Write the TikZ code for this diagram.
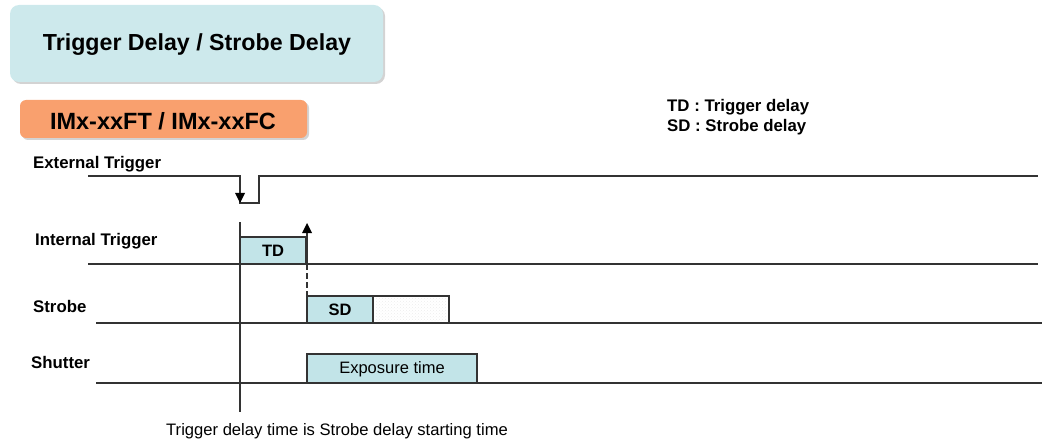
\documentclass[tikz,border=0pt]{standalone}
\usepackage{fontspec}
\setmainfont{Liberation Sans}
\usetikzlibrary{arrows.meta,shadows,patterns}
\definecolor{titlefill}{HTML}{CDE9EC}
\definecolor{boxfill}{HTML}{C2E4E8}
\definecolor{orangefill}{HTML}{F9A06E}
\definecolor{linecol}{HTML}{333333}
\tikzset{
  sig/.style={draw=linecol, line width=1.4pt},
  pulsebox/.style={draw=linecol, line width=1.4pt, fill=boxfill},
  lbl/.style={anchor=base west, inner sep=0pt, font=\fontsize{16.8}{18}\selectfont\bfseries},
  boxtxt/.style={inner sep=0pt, font=\fontsize{16.5}{18}\selectfont},
  headbox/.style={rounded corners=9pt, draw=none, drop shadow={shadow xshift=2pt, shadow yshift=-2pt, opacity=0.35}},
  tipfill/.style={fill=black, draw=none}
}
\begin{document}
\begin{tikzpicture}[x=1pt,y=-1pt]
\useasboundingbox (0,0) rectangle (1042,441);
% title boxes
\path[headbox, fill=titlefill] (10,5) rectangle (383,82);
\node[inner sep=0pt, font=\fontsize{23.2}{26}\selectfont\bfseries] (title) at (197,45) {Trigger Delay / Strobe Delay};
\path[headbox, rounded corners=6pt, fill=orangefill] (20,100) rectangle (307,138);
\node[inner sep=0pt, font=\fontsize{23.5}{26}\selectfont\bfseries] (model) at (163,121) {IMx-xxFT / IMx-xxFC};
% legend
\node[lbl] (legtd) at (667,112) {TD : Trigger delay};
\node[lbl] (legsd) at (667,132) {SD : Strobe delay};
% signal labels
\node[lbl] (lext) at (33,169) {External Trigger};
\node[lbl] (lint) at (35,245) {Internal Trigger};
\node[lbl] (lstr) at (33,312) {Strobe};
\node[lbl] (lshu) at (31,368) {Shutter};
% coordinates
\coordinate (t0) at (240,222);
\coordinate (t1) at (240,412);
\coordinate (tipdown) at (240,203);
\coordinate (tipup) at (307,223);
% pulse boxes
\path[pulsebox] (240,237) rectangle (306,264);
\node[boxtxt, font=\fontsize{16.5}{18}\selectfont\bfseries] (td) at (273,251) {TD};
\path[pattern=crosshatch dots, pattern color=gray!14] (376,298) rectangle (446,321);
\path[pulsebox] (307,296) rectangle (373,323);
\node[boxtxt, font=\fontsize{16.5}{18}\selectfont\bfseries] (sd) at (340,310) {SD};
\path[pulsebox] (307,354) rectangle (477,383);
\node[boxtxt] (exp) at (392,369) {Exposure time};
% external trigger
\draw[sig] (88,176) -- (240,176) -- (240,203) -- (259,203) -- (259,176) -- (1038,176);
\path[tipfill] (tipdown) -- ++(-5,-10) -- ++(10,0) -- cycle;
% internal trigger
\draw[sig] (88,264) -- (1038,264);
\draw[sig] (307,264) -- (307,228);
\path[tipfill] (tipup) -- ++(-5,10) -- ++(10,0) -- cycle;
% strobe
\draw[sig] (96,323) -- (307,323);
\draw[sig] (373,296) -- (449,296) -- (449,323) -- (1042,323);
\draw[sig] (373,323) -- (449,323);
\draw[draw=linecol, line width=1.2pt, dash pattern=on 6pt off 3pt] (307,264) -- (307,296);
% shutter
\draw[sig] (96,383) -- (1042,383);
% vertical reference
\draw[sig] (t0) -- (t1);
\node[anchor=base west, inner sep=0pt, font=\fontsize{16.6}{18}\selectfont] (note) at (166,435) {Trigger delay time is Strobe delay starting time};
\end{tikzpicture}
\end{document}
